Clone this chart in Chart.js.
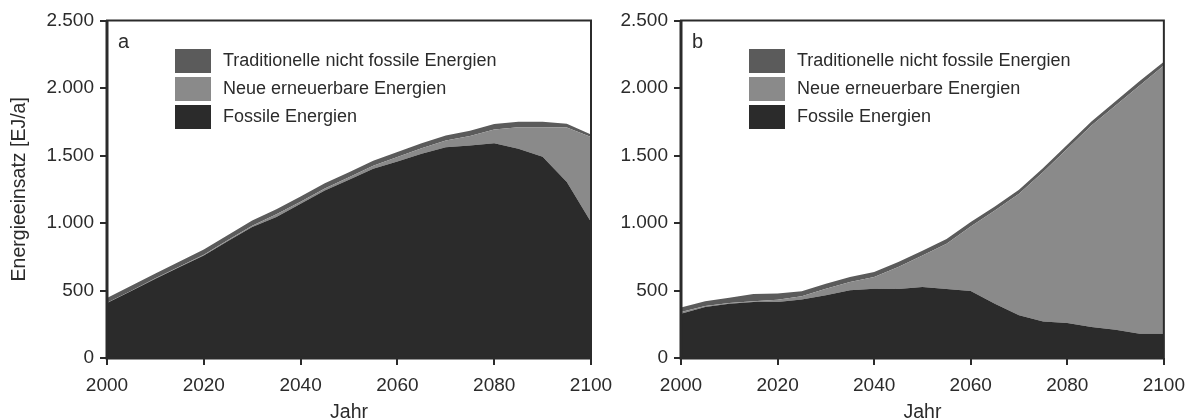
<!DOCTYPE html>
<html lang="de">
<head>
<meta charset="utf-8">
<script src="https://cdn.jsdelivr.net/npm/chart.js@4/dist/chart.umd.min.js"></script>
<style>
  html, body { margin: 0; padding: 0; background: #ffffff; }
  #wrap { position: relative; width: 1194px; height: 420px; overflow: hidden; }
  #wrap canvas { position: absolute; top: 0; }
  #cA { left: 0; }
  #cB { left: 600px; }
</style>
</head>
<body>
<div id="wrap">
  <canvas id="cA" width="640" height="420"></canvas>
  <canvas id="cB" width="594" height="420"></canvas>
</div>
<script>
// Jahre (5-Jahres-Schritte)
const years = [2000, 2005, 2010, 2015, 2020, 2025, 2030, 2035, 2040, 2045, 2050,
               2055, 2060, 2065, 2070, 2075, 2080, 2085, 2090, 2095, 2100];

// Szenario a – Energieeinsatz je Quelle [EJ/a]
const fossilA = [407, 496, 587, 674, 760, 866, 970, 1044, 1143, 1241, 1320,
                 1402, 1456, 1513, 1562, 1575, 1590, 1550, 1490, 1304, 1007];
const renewA  = [3, 3, 3, 4, 5, 8, 10, 20, 15, 15, 18,
                 22, 32, 40, 49, 70, 103, 160, 220, 404, 630];
const tradA   = [35, 36, 36, 37, 38, 38, 38, 38, 38, 38, 38,
                 38, 38, 38, 38, 38, 40, 40, 40, 28, 18];

// Szenario b – Energieeinsatz je Quelle [EJ/a]
const fossilB = [328, 378, 402, 415, 415, 434, 464, 501, 513, 511, 526,
                 511, 496, 402, 316, 271, 259, 230, 210, 180, 180];
const renewB  = [12, 8, 5, 5, 17, 23, 49, 62, 87, 163, 234,
                 336, 479, 691, 901, 1106, 1291, 1492, 1661, 1839, 1987];
const tradB   = [35, 35, 40, 55, 45, 38, 37, 37, 37, 37, 35,
                 35, 33, 30, 30, 30, 30, 30, 30, 32, 28];

const yTicks = [0, 500, 1000, 1500, 2000, 2500];
const xTicks = [2000, 2020, 2040, 2060, 2080, 2100];

const labels = {
  trad: 'Traditionelle nicht fossile Energien',
  renew: 'Neue erneuerbare Energien',
  fossil: 'Fossile Energien'
};
const colors = { trad: '#5b5b5b', renew: '#8a8a8a', fossil: '#2b2b2b' };
const ink = '#2b2b2b';
const FONT = "'Liberation Sans', Arial, Helvetica, sans-serif";

function fmtDE(v) {
  return String(v).replace(/\B(?=(\d{3})+(?!\d))/g, '.');
}

function series(vals, label, color, fill) {
  return {
    label: label,
    data: years.map((x, i) => ({ x: x, y: vals[i] })),
    backgroundColor: color,
    borderColor: color,
    borderWidth: 0,
    pointRadius: 0,
    tension: 0,
    fill: fill
  };
}

// Rahmen, Legende und Feldbuchstabe
const panelDecor = {
  id: 'panelDecor',
  afterDatasetsDraw(chart, args, opts) {
    const ctx = chart.ctx;
    const a = chart.chartArea;
    ctx.save();
    ctx.strokeStyle = ink;
    ctx.lineWidth = 2;
    ctx.strokeRect(a.left, a.top, a.right - a.left, a.bottom - a.top);
    ctx.lineWidth = 3;
    ctx.beginPath();
    ctx.moveTo(a.left, a.top);
    ctx.lineTo(a.left, a.bottom);
    ctx.lineTo(a.right, a.bottom);
    ctx.stroke();

    // Feldbuchstabe
    ctx.fillStyle = ink;
    ctx.font = '20px ' + FONT;
    ctx.textBaseline = 'alphabetic';
    ctx.textAlign = 'left';
    ctx.fillText(opts.letter, a.left + 11, a.top + 27.5);

    // Legende (oberste Schicht zuerst)
    const ds = chart.data.datasets.slice().reverse();
    ctx.font = '18px ' + FONT;
    ctx.textBaseline = 'middle';
    ds.forEach((d, i) => {
      const bx = a.left + 68;
      const by = a.top + 28.5 + i * 28;
      ctx.fillStyle = d.backgroundColor;
      ctx.fillRect(bx, by, 36, 24);
      ctx.fillStyle = ink;
      ctx.fillText(d.label, bx + 48, by + 12.5);
    });
    ctx.restore();
  }
};

function makeChart(id, fossil, renew, trad, letter, yWidth, rightPad, showYTitle) {
  return new Chart(document.getElementById(id), {
    type: 'line',
    data: {
      datasets: [
        series(fossil, labels.fossil, colors.fossil, 'origin'),
        series(renew, labels.renew, colors.renew, '-1'),
        series(trad, labels.trad, colors.trad, '-1')
      ]
    },
    options: {
      responsive: false,
      devicePixelRatio: 1,
      animation: false,
      layout: { padding: { top: 20.5, right: rightPad, bottom: 0, left: 0 } },
      plugins: {
        legend: { display: false },
        tooltip: { enabled: false },
        panelDecor: { letter: letter }
      },
      scales: {
        x: {
          type: 'linear',
          min: 2000,
          max: 2100,
          afterBuildTicks(s) { s.ticks = xTicks.map(v => ({ value: v })); },
          afterFit(s) { s.height = 62; },
          grid: { drawOnChartArea: false, color: ink, lineWidth: 2, tickLength: 7 },
          border: { display: false },
          ticks: {
            color: ink,
            font: { family: FONT, size: 19 },
            padding: 9,
            maxRotation: 0,
            callback: v => String(v)
          },
          title: {
            display: true,
            text: 'Jahr',
            color: ink,
            font: { family: FONT, size: 19.5, lineHeight: 1 },
            padding: { top: 0, bottom: -2 }
          }
        },
        y: {
          stacked: true,
          min: 0,
          max: 2500,
          afterBuildTicks(s) { s.ticks = yTicks.map(v => ({ value: v })); },
          afterFit(s) { s.width = yWidth; },
          grid: { drawOnChartArea: false, color: ink, lineWidth: 2, tickLength: 7 },
          border: { display: false },
          ticks: {
            color: ink,
            font: { family: FONT, size: 19 },
            padding: 6,
            callback: v => fmtDE(v)
          },
          title: {
            display: showYTitle,
            text: 'Energieeinsatz [EJ/a]',
            color: ink,
            font: { family: FONT, size: 19.5, lineHeight: 1 },
            padding: { top: 10, bottom: 0 }
          }
        }
      }
    },
    plugins: [panelDecor]
  });
}

makeChart('cA', fossilA, renewA, tradA, 'a', 107, 49, true);
makeChart('cB', fossilB, renewB, tradB, 'b', 81, 28, false);
</script>
</body>
</html>
